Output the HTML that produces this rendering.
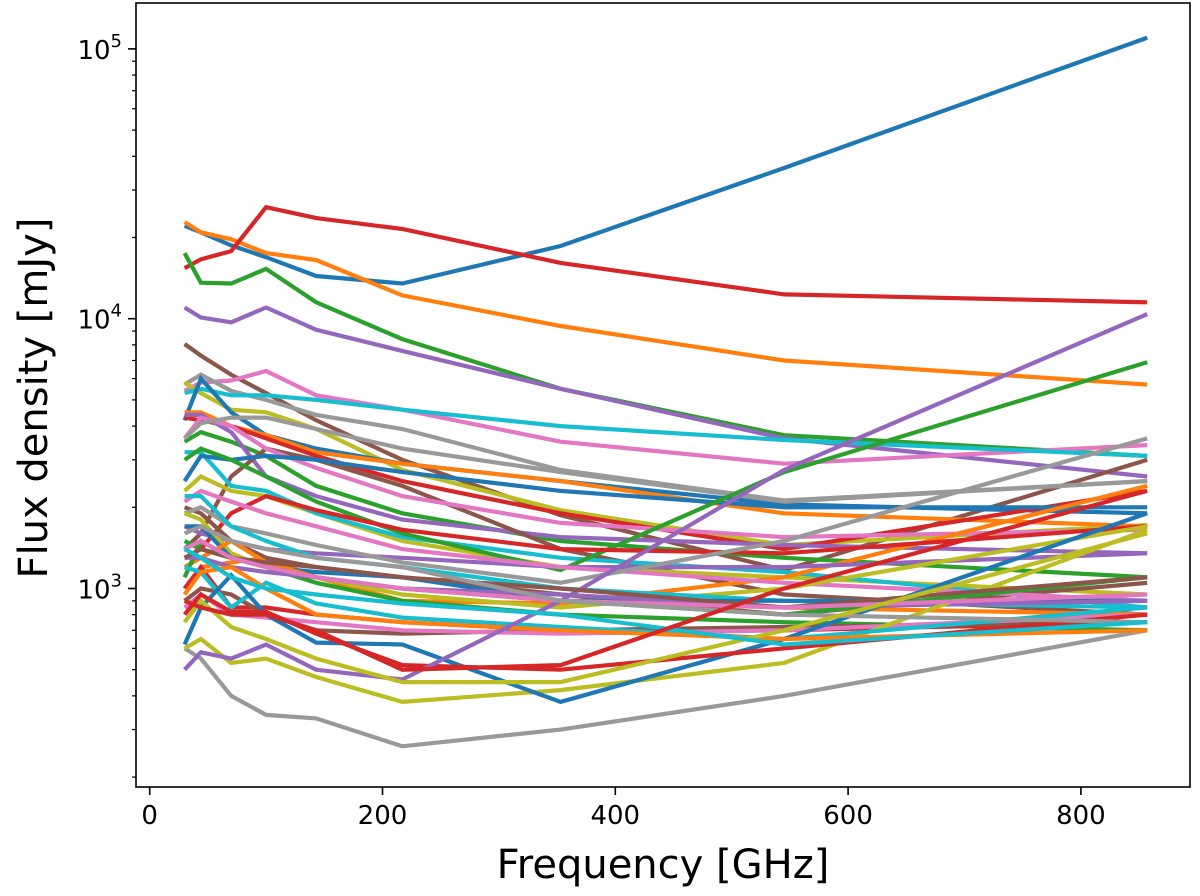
<!DOCTYPE html>
<html><head><meta charset="utf-8"><style>
html,body{margin:0;padding:0;background:#fff;}
svg{display:block;font-family:"DejaVu Sans","Liberation Sans",sans-serif;}
</style></head><body>
<svg id="chart" width="1200" height="896" viewBox="0 0 1200 896" xmlns="http://www.w3.org/2000/svg">
<g id="lines"></g>
<rect x="136" y="3" width="1054" height="784" fill="none" stroke="#000" stroke-width="1.6"/>
<g id="xaxis"></g>
<g id="yaxis"></g>
<text x="663" y="878" font-size="40" text-anchor="middle">Frequency [GHz]</text>
<text transform="translate(47,398) rotate(-90)" font-size="40" text-anchor="middle">Flux density [mJy]</text>
</svg>
<script>
const frequencies = [30, 44, 70, 100, 143, 217, 353, 545, 857];
const xTicks = [0, 200, 400, 600, 800];
const yDecades = [3, 4, 5];
const seriesColors = ["#1f77b4","#ff7f0e","#d62728","#2ca02c","#9467bd","#8c564b","#e377c2","#999999","#bcbd22","#17becf",
"#1f77b4","#ff7f0e","#2ca02c","#d62728","#9467bd","#8c564b","#e377c2","#999999","#bcbd22","#17becf",
"#1f77b4","#ff7f0e","#2ca02c","#d62728","#9467bd","#8c564b","#e377c2","#999999","#bcbd22","#17becf",
"#1f77b4","#ff7f0e","#2ca02c","#d62728","#9467bd","#8c564b","#e377c2","#999999","#bcbd22","#17becf",
"#1f77b4","#ff7f0e","#2ca02c","#d62728","#9467bd","#8c564b","#e377c2","#999999","#bcbd22","#17becf","#d62728"];
const fluxSeries = [
[22100,20900,18700,16900,14400,13500,18600,36200,110000],
[22800,20900,19700,17500,16500,12200,9400,7000,5700],
[15400,16600,17800,25900,23600,21500,16100,12300,11500],
[17500,13600,13500,15300,11500,8400,5500,3700,3100],
[11000,10100,9700,11000,9100,7600,5500,3600,2600],
[8060,7300,6200,5300,4200,3000,1870,1170,3000],
[5400,5800,5900,6400,5200,4600,3500,2900,3400],
[5700,6200,5400,5000,4400,3900,2750,2120,2500],
[5800,5300,4600,4500,3900,2750,1950,1450,1720],
[5300,5500,5200,5200,5000,4600,4000,3550,3100],
[4200,6000,4500,3700,3300,2900,2500,2050,1900],
[4500,4500,4000,3700,3200,2900,2500,1900,1700],
[3500,3800,3500,3100,2400,1900,1500,1300,1100],
[4300,4200,4000,3600,3100,2500,1900,1400,2300],
[4400,4400,3800,2600,2200,1800,1550,1450,1350],
[1400,1600,2600,3300,3000,2400,1400,950,800],
[3600,4300,4000,3300,2800,2200,1750,1550,1650],
[3600,4100,4300,4300,3900,3300,2700,2100,2500],
[2300,2600,2300,2200,1900,1500,1200,1100,950],
[3200,3200,2400,2300,1900,1550,1300,1150,850],
[2500,3100,3000,3100,3000,2700,2300,2000,2000],
[1000,1200,1250,1300,1100,900,880,1100,2400],
[3000,3300,3000,2600,2100,1600,1170,2700,6900],
[1300,1400,1900,2200,1950,1650,1400,1350,1700],
[1700,1600,1500,1400,1350,1300,1200,1200,1350],
[2000,1900,1500,1300,1200,1100,950,800,1050],
[2100,2300,2100,1900,1700,1400,1200,1050,900],
[1900,2000,1700,1600,1450,1250,1050,1500,3600],
[1900,1800,1350,1200,1100,950,850,1000,1700],
[2200,2200,1700,1500,1300,1200,1000,900,850],
[1700,1700,1300,1200,1150,1100,900,900,900],
[1200,1300,1500,1250,1100,1000,900,850,800],
[1100,1500,1300,1200,1050,900,800,750,700],
[1000,1200,850,850,800,750,700,700,750],
[1300,1300,1200,1150,1100,1000,950,850,900],
[900,1000,950,800,700,680,700,720,750],
[850,950,800,780,750,700,680,700,800],
[600,550,400,340,330,260,300,400,700],
[600,650,530,550,470,380,420,530,1650],
[1200,1150,850,1050,880,780,720,650,850],
[620,850,1120,800,630,620,380,650,1900],
[950,1150,1200,1000,800,750,700,650,700],
[1500,1400,1300,1200,1100,1000,900,800,1100],
[800,950,820,820,680,520,500,600,800],
[500,580,550,620,500,460,900,2750,10400],
[1300,1400,1300,1250,1200,1100,1000,850,1100],
[1400,1500,1300,1200,1100,1000,900,850,950],
[1600,1700,1500,1400,1300,1200,900,800,750],
[750,900,720,650,550,450,450,700,1600],
[1400,1300,1100,1000,950,880,800,620,750],
[900,850,800,800,700,500,520,1000,2300]
];
const NS="http://www.w3.org/2000/svg";
const X0=149.7, XS=1.164, Y3=588.5, DEC=269.8;
function xScale(f){return X0+XS*f;}
function yScale(v){return Y3-DEC*Math.log10(v/1000);}
const lines=document.getElementById('lines');
fluxSeries.forEach((s,i)=>{
  const p=document.createElementNS(NS,'polyline');
  p.setAttribute('points',s.map((v,j)=>xScale(frequencies[j]).toFixed(1)+','+yScale(v).toFixed(1)).join(' '));
  p.setAttribute('fill','none');
  p.setAttribute('stroke',seriesColors[i%seriesColors.length]);
  p.setAttribute('stroke-width','4.2');
  
  
  lines.appendChild(p);
});
const xa=document.getElementById('xaxis');
xTicks.forEach(t=>{
  const x=xScale(t);
  const l=document.createElementNS(NS,'line');
  l.setAttribute('x1',x);l.setAttribute('x2',x);l.setAttribute('y1',787);l.setAttribute('y2',795);
  l.setAttribute('stroke','#000');l.setAttribute('stroke-width','1.6');
  
  
  xa.appendChild(l);
  const tx=document.createElementNS(NS,'text');
  tx.setAttribute('x',x);tx.setAttribute('y',824);tx.setAttribute('font-size','26');tx.setAttribute('text-anchor','middle');
  tx.textContent=t;
  
  
  xa.appendChild(tx);
});
const ya=document.getElementById('yaxis');
for(let d=2;d<=5;d++){
  for(let m=1;m<=9;m++){
    const v=m*Math.pow(10,d);
    const y=yScale(v);
    if(y<3||y>787) continue;
    const l=document.createElementNS(NS,'line');
    l.setAttribute('x1',136);l.setAttribute('x2',m===1?128:132);l.setAttribute('y1',y);l.setAttribute('y2',y);
    l.setAttribute('stroke','#000');l.setAttribute('stroke-width',m===1?'1.6':'1.2');
    
    
    ya.appendChild(l);
  }
}
yDecades.forEach(d=>{
  const y=yScale(Math.pow(10,d));
  const tx=document.createElementNS(NS,'text');
  tx.setAttribute('x',122);tx.setAttribute('y',y+10);tx.setAttribute('font-size','26');tx.setAttribute('text-anchor','end');
  tx.innerHTML='10<tspan dy="-12" font-size="18">'+d+'</tspan>';
  
  
  ya.appendChild(tx);
});
</script>
</body></html>
